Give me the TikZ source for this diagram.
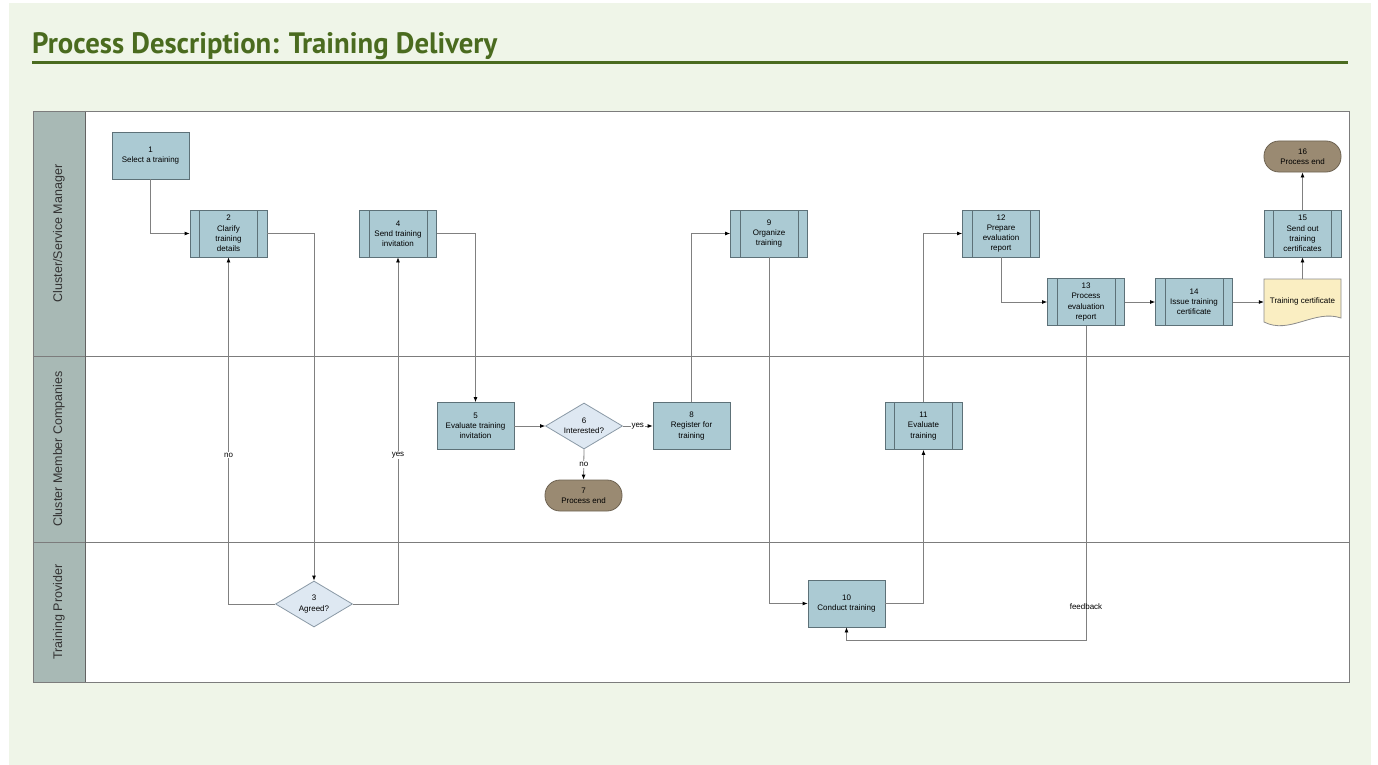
\documentclass[tikz,border=0pt]{standalone}
\usepackage{fontspec}
\setmainfont{Liberation Sans}
\newfontfamily\titlefont{PT Sans}
\usetikzlibrary{arrows.meta,shapes.geometric,calc}

\definecolor{pagebg}{HTML}{EFF5E8}
\definecolor{titlegreen}{HTML}{4A6B1F}
\definecolor{lanehead}{HTML}{A8B9B5}
\definecolor{laneline}{HTML}{7C7C7C}
\definecolor{procfill}{HTML}{ABCAD3}
\definecolor{procline}{HTML}{5D7178}
\definecolor{decfill}{HTML}{DEE8F2}
\definecolor{decline}{HTML}{8A99A6}
\definecolor{termfill}{HTML}{9A8A72}
\definecolor{termline}{HTML}{6E6352}
\definecolor{docfill}{HTML}{FAEEC2}
\definecolor{docline}{HTML}{8C8C8C}
\definecolor{flowline}{HTML}{808080}

\newcommand{\nodefont}{\fontsize{8}{10.2}\selectfont}

\tikzset{
  procbox/.style={rectangle, draw=procline, fill=procfill, line width=0.8pt,
    minimum width=77pt, minimum height=47pt, inner sep=1pt, align=center,
    font=\nodefont},
  subbox/.style={procbox, path picture={
      \draw[procline, line width=0.8pt]
        ([xshift=9.5pt]path picture bounding box.north west) --
        ([xshift=9.5pt]path picture bounding box.south west);
      \draw[procline, line width=0.8pt]
        ([xshift=-9.5pt]path picture bounding box.north east) --
        ([xshift=-9.5pt]path picture bounding box.south east);}},
  decbox/.style={diamond, draw=decline, fill=decfill, line width=0.8pt,
    minimum width=77pt, minimum height=46pt, inner sep=0pt, aspect=1.65,
    align=center, font=\nodefont},
  termbox/.style={rectangle, rounded corners=15pt, draw=termline, fill=termfill,
    line width=0.8pt, minimum width=77pt, minimum height=31pt, inner sep=1pt,
    align=center, font=\nodefont},
  docbox/.style={rectangle, minimum width=77pt, minimum height=46pt,
    inner sep=1pt, align=center, font=\nodefont},
  flow/.style={draw=flowline, line width=0.8pt,
    -{Latex[length=5pt,width=4pt,color=black]}},
  flowlabel/.style={font=\nodefont, fill=white, inner sep=1pt},
  lanetext/.style={rotate=90, font=\fontsize{12.5}{14}\selectfont, text=black!80}
}

\begin{document}
\begin{tikzpicture}[x=1pt,y=-1pt]
  % page and panel
  \fill[white] (0,0) rectangle (1378,765);
  \useasboundingbox (0,0) rectangle (1378,765);
  \fill[pagebg] (9,3) rectangle (1371,765);

  % title and rule
  \node[anchor=base west, inner sep=0pt, text=titlegreen] (title) at (32,54)
    {\resizebox{465pt}{21pt}{\titlefont\bfseries Process Description: Training Delivery}};
  \draw[titlegreen, line width=3.5pt] (32,62.5) -- (1348,62.5);

  % pool with three lanes
  \fill[white] (33,111) rectangle (1349,682);
  \fill[lanehead] (33,111) rectangle (85,682);
  \draw[laneline, line width=0.8pt] (33,356) -- (1349,356);
  \draw[laneline, line width=0.8pt] (33,542) -- (1349,542);
  \draw[laneline!80!black, line width=0.8pt] (85,111) -- (85,682);
  \draw[laneline, line width=0.9pt] (33,111) rectangle (1349,682);

  \node[lanetext] (lane1) at (59,233.5) {Cluster/Service Manager};
  \node[lanetext] (lane2) at (59,449) {Cluster Member Companies};
  \node[lanetext] (lane3) at (59,612) {Training Provider};

  % steps
  \node[procbox] (n1) at (150.5,155.5) {1\\Select a training};
  \node[subbox] (n2) at (228.5,233.5) {2\\Clarify\\training\\details};
  \node[decbox] (n3) at (314,604) {3\\Agreed?};
  \node[subbox] (n4) at (398,233.5) {4\\Send training\\invitation};
  \node[procbox] (n5) at (475.5,426) {5\\Evaluate training\\invitation};
  \node[decbox] (n6) at (584,426) {6\\Interested?};
  \node[termbox] (n7) at (583.5,495.5) {7\\Process end};
  \node[procbox] (n8) at (691.5,426) {8\\Register for\\training};
  \node[subbox] (n9) at (769,233.5) {9\\Organize\\training};
  \node[procbox] (n10) at (846.5,603.5) {10\\Conduct training};
  \node[subbox] (n11) at (923.5,426) {11\\Evaluate\\training};
  \node[subbox] (n12) at (1001,233.5) {12\\Prepare\\evaluation\\report};
  \node[subbox] (n13) at (1086,302) {13\\Process\\evaluation\\report};
  \node[subbox] (n14) at (1194,302) {14\\Issue training\\certificate};

  % document with wavy lower edge
  \coordinate (certc) at (1302.5,302);
  \draw[docline, fill=docfill, line width=0.8pt]
    ($(certc)+(-38.5,-23)$) -- ($(certc)+(38.5,-23)$) -- ($(certc)+(38.5,16)$)
    .. controls ($(certc)+(12,7)$) and ($(certc)+(-13,33)$) .. ($(certc)+(-38.5,20)$)
    -- cycle;
  \node[docbox] (cert) at (certc) {\raisebox{3pt}{Training certificate}};

  \node[subbox] (n15) at (1302.5,233.5) {15\\Send out\\training\\certificates};
  \node[termbox] (n16) at (1302.5,156.5) {16\\Process end};

  % connectors
  \coordinate (fbrow) at (0,640);
  \path[flow] (n1.south) |- (n2.west);
  \path[flow] (n2.east) -| (n3.north);
  \path[flow] (n3.west) -| node[flowlabel, pos=0.715] {no} (n2.south);
  \path[flow] (n3.east) -| node[flowlabel, pos=0.715] {yes} (n4.south);
  \path[flow] (n4.east) -| (n5.north);
  \path[flow] (n5.east) -- (n6.west);
  \path[flow] (n6.east) -- node[flowlabel] {yes} (n8.west);
  \path[flow] (n6.south) -- node[flowlabel] {no} (n7.north);
  \path[flow] (n8.north) |- (n9.west);
  \path[flow] (n9.south) |- (n10.west);
  \path[flow] (n10.east) -| (n11.south);
  \path[flow] (n11.north) |- (n12.west);
  \path[flow] (n12.south) |- (n13.west);
  \path[flow] (n13.south) -- node[font=\nodefont, pos=0.895, inner sep=1pt] {feedback}
    (n13.south |- fbrow) -| (n10.south);
  \path[flow] (n13.east) -- (n14.west);
  \path[flow] (n14.east) -- (cert.west);
  \path[flow] (cert.north) -- (n15.south);
  \path[flow] (n15.north) -- (n16.south);
\end{tikzpicture}
\end{document}
